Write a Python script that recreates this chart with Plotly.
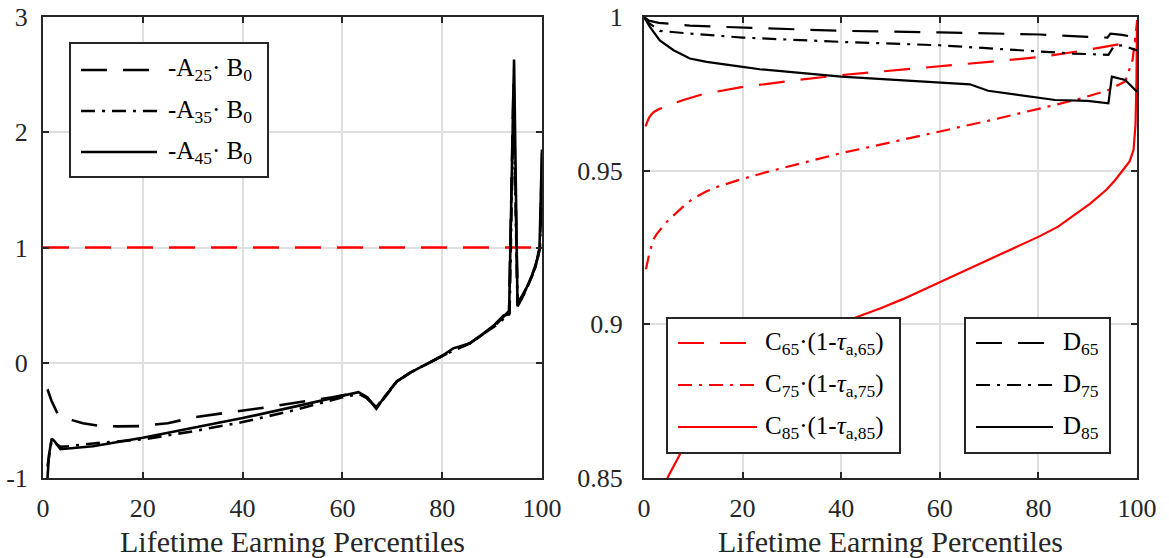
import plotly.graph_objects as go

# ---------------- data: left panel ----------------
x_a25 = [0.9, 1.7, 2.9, 4.0, 6.0, 8.0, 11.0, 15.0, 19.3, 25.0, 30.7, 35.0, 39.4, 45.0, 52.8, 58.0, 61.5, 63.3, 65.0, 66.8, 68.5, 70.9, 73.5, 76.0, 79.6, 82.0, 85.6, 88.9, 91.0, 93.4, 94.3, 95.1, 96.0, 97.0, 98.0, 99.0, 99.6, 100.0]
y_a25 = [-0.23, -0.33, -0.44, -0.47, -0.50, -0.525, -0.545, -0.552, -0.55, -0.525, -0.47, -0.445, -0.417, -0.385, -0.333, -0.30, -0.27, -0.255, -0.31, -0.385, -0.29, -0.16, -0.09, -0.03, 0.05, 0.10, 0.17, 0.27, 0.34, 0.45, 2.45, 0.52, 0.58, 0.66, 0.76, 0.89, 1.0, 1.80]

x_a35 = [0.9, 1.7, 2.5, 3.5, 5.0, 10.0, 20.0, 30.0, 40.0, 50.0, 60.0, 63.3, 65.0, 66.8, 68.5, 70.9, 73.5, 76.0, 79.6, 82.0, 85.6, 88.9, 91.0, 93.5, 94.3, 95.1, 96.0, 97.0, 98.0, 99.0, 99.6, 100.0]
y_a35 = [-0.90, -0.68, -0.70, -0.73, -0.725, -0.70, -0.665, -0.595, -0.515, -0.415, -0.30, -0.27, -0.31, -0.39, -0.30, -0.165, -0.088, -0.03, 0.05, 0.10, 0.17, 0.27, 0.33, 0.43, 2.25, 0.50, 0.56, 0.65, 0.75, 0.88, 1.0, 1.82]

x_a45 = [0.9, 1.2, 1.75, 2.3, 3.5, 5.0, 10.0, 20.0, 30.0, 40.0, 50.0, 60.2, 63.2, 65.0, 66.8, 68.5, 70.9, 73.5, 76.0, 79.6, 82.2, 85.6, 88.3, 90.5, 92.3, 93.4, 94.4, 95.1, 96.0, 97.0, 98.7, 99.5, 100.0]
y_a45 = [-1.0, -0.80, -0.66, -0.68, -0.75, -0.745, -0.725, -0.65, -0.565, -0.48, -0.385, -0.28, -0.255, -0.30, -0.40, -0.29, -0.165, -0.087, -0.03, 0.05, 0.125, 0.17, 0.255, 0.33, 0.41, 0.42, 2.63, 0.49, 0.56, 0.66, 0.83, 1.0, 1.85]

x_ref = [0, 100]
y_ref = [1, 1]

# ---------------- data: right panel ----------------
x_c65 = [0.3, 0.6, 1.0, 1.5, 2.0, 3.0, 3.9, 5.5, 8.0, 12.0, 19.5, 30.0, 40.0, 50.0, 60.0, 70.0, 80.5, 90.0, 96.6, 100.0]
y_c65 = [0.9644, 0.9658, 0.9672, 0.9683, 0.9691, 0.9700, 0.9706, 0.9716, 0.9730, 0.9749, 0.9771, 0.9793, 0.9811, 0.9825, 0.9838, 0.9854, 0.9870, 0.9893, 0.9912, 0.9922]

x_c75 = [0.4, 0.7, 1.0, 1.5, 1.9, 2.5, 3.0, 3.9, 5.0, 6.0, 8.0, 10.0, 12.7, 15.0, 19.5, 25.0, 29.6, 40.0, 50.0, 60.2, 70.0, 80.5, 88.0, 94.2, 97.6, 99.1, 100.0]
y_c75 = [0.9179, 0.9205, 0.9225, 0.9255, 0.9276, 0.9292, 0.9303, 0.9320, 0.9340, 0.9355, 0.9384, 0.9410, 0.9433, 0.9448, 0.9471, 0.9496, 0.9514, 0.9557, 0.9592, 0.9627, 0.9663, 0.9703, 0.9732, 0.9762, 0.9790, 0.9860, 0.9980]

x_c85 = [3.5, 4.9, 7.6, 10.0, 15.0, 20.0, 25.0, 30.0, 35.0, 40.0, 44.2, 48.0, 52.5, 56.0, 60.0, 65.0, 70.2, 75.0, 80.3, 84.0, 87.0, 90.5, 93.8, 95.5, 97.2, 98.5, 99.3, 99.7, 99.9, 100.0]
y_c85 = [0.845, 0.8505, 0.8586, 0.8650, 0.8760, 0.8840, 0.8897, 0.8940, 0.8975, 0.9005, 0.9028, 0.9052, 0.9082, 0.9108, 0.9136, 0.9173, 0.9212, 0.9248, 0.9287, 0.9318, 0.9352, 0.9393, 0.9438, 0.9468, 0.9503, 0.9530, 0.9568, 0.9650, 0.9800, 0.9990]

x_d65 = [0, 1.0, 3.0, 4.6, 9.3, 14.0, 20.0, 40.0, 60.0, 80.3, 90.5, 94.0, 94.6, 97.0, 100.0]
y_d65 = [1.0, 0.9988, 0.9981, 0.9979, 0.9972, 0.9969, 0.9966, 0.9955, 0.9950, 0.9943, 0.9935, 0.9933, 0.9946, 0.9942, 0.9932]

x_d75 = [0, 1.0, 3.2, 9.3, 20.0, 40.0, 60.0, 70.2, 80.3, 87.0, 94.2, 95.3, 97.0, 100.0]
y_d75 = [1.0, 0.9980, 0.9955, 0.9946, 0.9933, 0.9919, 0.9908, 0.9898, 0.9887, 0.9881, 0.9877, 0.9905, 0.9908, 0.9891]

x_d85 = [0, 1.2, 3.2, 6.0, 9.3, 12.7, 20.0, 23.5, 40.0, 60.0, 66.1, 69.8, 75.0, 83.4, 90.0, 94.2, 94.9, 97.6, 99.3, 100.0]
y_d85 = [1.0, 0.9968, 0.9924, 0.9892, 0.9865, 0.9854, 0.9838, 0.9830, 0.9806, 0.9788, 0.9781, 0.9760, 0.9748, 0.9730, 0.9727, 0.9719, 0.9806, 0.9795, 0.9768, 0.9757]

x_ticks = [0, 20, 40, 60, 80, 100]
left_yticks = [-1, 0, 1, 2, 3]
left_yticktext = ["-1", "0", "1", "2", "3"]
right_yticks = [0.85, 0.9, 0.95, 1.0]
right_yticktext = ["0.85", "0.9", "0.95", "1"]

left_labels = ["-A<sub>25</sub>· B<sub>0</sub>", "-A<sub>35</sub>· B<sub>0</sub>", "-A<sub>45</sub>· B<sub>0</sub>"]
c_labels = ["C<sub>65</sub>·(1-<i>τ</i><sub>a,65</sub>)", "C<sub>75</sub>·(1-<i>τ</i><sub>a,75</sub>)", "C<sub>85</sub>·(1-<i>τ</i><sub>a,85</sub>)"]
d_labels = ["D<sub>65</sub>", "D<sub>75</sub>", "D<sub>85</sub>"]
xlabel = "Lifetime Earning Percentiles"

# ---------------- styles ----------------
W, H = 1169, 558
AX = "#262626"
GRID = "#dfdfdf"
RED = "#ff0000"
DASH = "26px,16px"
DASHDOT = "14px,7px,3px,7px"
TICKFONT = dict(family="Liberation Serif", size=26, color=AX)
TEXTFONT = "Liberation Serif"

def px_x(p):
    return p / W

def px_y(p):
    return (H - p) / H

fig = go.Figure()

def add(x, y, xa, ya, color, dash, width):
    fig.add_trace(go.Scatter(x=x, y=y, xaxis=xa, yaxis=ya, mode="lines",
                             line=dict(color=color, dash=dash, width=width),
                             showlegend=False, hoverinfo="skip"))

add(x_ref, y_ref, "x", "y", RED, DASH, 2.3)
add(x_a25, y_a25, "x", "y", "black", DASH, 2.6)
add(x_a35, y_a35, "x", "y", "black", DASHDOT, 2.6)
add(x_a45, y_a45, "x", "y", "black", "solid", 2.6)

add(x_c65, y_c65, "x2", "y2", RED, DASH, 2.2)
add(x_c75, y_c75, "x2", "y2", RED, DASHDOT, 2.2)
add(x_c85, y_c85, "x2", "y2", RED, "solid", 2.2)
add(x_d65, y_d65, "x2", "y2", "black", DASH, 2.2)
add(x_d75, y_d75, "x2", "y2", "black", DASHDOT, 2.2)
add(x_d85, y_d85, "x2", "y2", "black", "solid", 2.2)

common_axis = dict(showline=True, linecolor=AX, linewidth=2, mirror="ticks",
                   ticks="inside", ticklen=6, tickwidth=1.5, tickcolor=AX,
                   showgrid=True, gridcolor=GRID, gridwidth=1.5, zeroline=False,
                   tickfont=TICKFONT, automargin=False, fixedrange=True)

ydom = [px_y(478), px_y(17)]
fig.update_layout(
    width=W, height=H, margin=dict(l=0, r=0, t=0, b=0),
    paper_bgcolor="white", plot_bgcolor="white", showlegend=False,
    xaxis=dict(domain=[px_x(43), px_x(542)], range=[0, 100], tickvals=x_ticks,
               anchor="y", ticklabelstandoff=6, **common_axis),
    yaxis=dict(domain=ydom, range=[-1, 3], tickvals=left_yticks, ticktext=left_yticktext,
               anchor="x", ticklabelstandoff=8, **common_axis),
    xaxis2=dict(domain=[px_x(644), px_x(1137)], range=[0, 100], tickvals=x_ticks,
                anchor="y2", ticklabelstandoff=6, **common_axis),
    yaxis2=dict(domain=ydom, range=[0.85, 1.0], tickvals=right_yticks, ticktext=right_yticktext,
                anchor="x2", ticklabelstandoff=14, **common_axis),
)

shapes = []
annotations = []

# axis titles
for cx in [(43 + 542) / 2, (644 + 1137) / 2]:
    annotations.append(dict(x=px_x(cx), y=px_y(541), xref="paper", yref="paper",
                            text=xlabel, showarrow=False, xanchor="center", yanchor="middle",
                            font=dict(family=TEXTFONT, size=30, color=AX)))

def legend(box, line_x0, line_x1, text_x, rows, styles, labels, fsize):
    x0, x1, y0, y1 = box
    shapes.append(dict(type="rect", xref="paper", yref="paper", layer="above",
                       x0=px_x(x0), x1=px_x(x1), y0=px_y(y1), y1=px_y(y0),
                       fillcolor="white", line=dict(color=AX, width=2)))
    for ry, (col, dsh, lw), lab in zip(rows, styles, labels):
        shapes.append(dict(type="line", xref="paper", yref="paper", layer="above",
                           x0=px_x(line_x0), x1=px_x(line_x1), y0=px_y(ry), y1=px_y(ry),
                           line=dict(color=col, dash=dsh, width=lw)))
        annotations.append(dict(x=px_x(text_x), y=px_y(ry), xref="paper", yref="paper",
                                text=lab, showarrow=False, xanchor="left", yanchor="middle",
                                font=dict(family=TEXTFONT, size=fsize, color="black")))

legend((70, 268, 43, 177), 81, 157, 166, [70, 111, 152],
       [("black", DASH, 2.5), ("black", DASHDOT, 2.5), ("black", "solid", 2.5)],
       left_labels, 25)
legend((667, 900, 318, 453), 678, 757, 763, [343, 385, 427],
       [(RED, DASH, 2.2), (RED, DASHDOT, 2.2), (RED, "solid", 2.2)],
       c_labels, 25)
legend((965, 1110, 318, 453), 976, 1053, 1061, [343, 385, 427],
       [("black", DASH, 2.2), ("black", DASHDOT, 2.2), ("black", "solid", 2.2)],
       d_labels, 25)

fig.update_layout(shapes=shapes, annotations=annotations)
fig.write_html("out.html")
